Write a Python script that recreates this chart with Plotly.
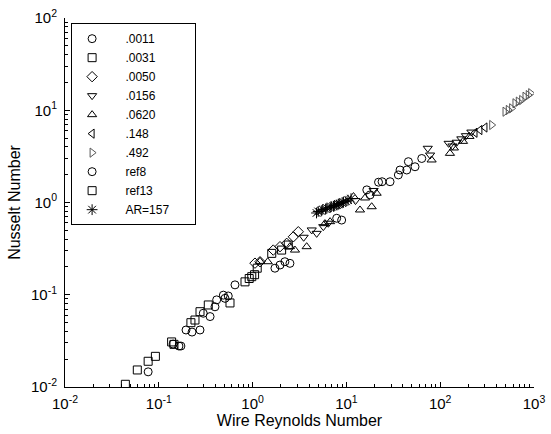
import plotly.graph_objects as go

# ---------------- data ----------------
ref13_x = [0.044, 0.059, 0.077, 0.092, 0.137, 0.145, 0.22, 0.243, 0.275, 0.337, 0.574]
ref13_y = [0.0107, 0.0153, 0.019, 0.0215, 0.0308, 0.029, 0.0498, 0.0532, 0.0655, 0.0775, 0.0815]

s0031_x = [0.83, 0.92, 0.98, 1.05, 1.12, 1.6, 2.04, 2.4]
s0031_y = [0.138, 0.15, 0.157, 0.165, 0.194, 0.281, 0.305, 0.346]

ref8_x = [0.077, 0.142, 0.164, 0.172, 0.195, 0.226, 0.275, 0.298, 0.352, 0.397, 0.414, 0.488, 0.508, 0.55, 0.649]
ref8_y = [0.0146, 0.0292, 0.0278, 0.0278, 0.0415, 0.0394, 0.0415, 0.063, 0.058, 0.074, 0.088, 0.099, 0.0914, 0.097, 0.128]

s0011_x = [1.73, 1.96, 2.21, 2.5, 7.88, 8.9, 16.5, 17.9, 22.0, 24.0, 29.2, 35.8, 37.3, 44, 45.8, 53.9, 63.6]
s0011_y = [0.194, 0.21, 0.228, 0.219, 0.675, 0.645, 1.37, 1.21, 1.66, 1.68, 1.68, 1.99, 2.25, 2.25, 2.77, 2.44, 3.0]

s0050_x = [1.06, 1.2, 1.66, 1.96, 2.31, 2.72, 3.07]
s0050_y = [0.22, 0.228, 0.305, 0.332, 0.361, 0.425, 0.482]

s0156_x = [3.5, 4.27, 4.82, 5.67, 6.41, 12.5, 19.5, 73.7, 78, 123, 135, 150, 168, 188, 215]
s0156_y = [0.42, 0.504, 0.463, 0.547, 0.596, 1.05, 1.35, 3.87, 3.27, 4.38, 4.1, 4.5, 4.9, 5.3, 5.8]

s0620_x = [1.2, 1.45, 2.5, 2.83, 3.77, 5.9, 6.7, 11.9, 13.96, 15.8, 18.6, 21, 81, 127, 140, 175, 205]
s0620_y = [0.23, 0.228, 0.332, 0.305, 0.332, 0.59, 0.62, 1.16, 0.83, 1.12, 0.9, 1.26, 2.89, 3.41, 3.9, 4.6, 5.2]

s148_x = [235, 265, 300]
s148_y = [5.7, 6.1, 6.5]

s492_x = [354, 491, 532, 578, 627, 680, 739, 802, 869, 922]
s492_y = [6.92, 9.64, 10.07, 10.5, 11.9, 12.4, 12.9, 14.0, 14.6, 15.3]

ar157_x = [4.8, 5.0, 5.4, 5.6, 6.0, 6.2, 6.7, 6.9, 7.3, 7.5, 7.9, 8.2, 8.5, 9.0, 9.3, 9.9, 10.4, 11.2]
ar157_y = [0.77, 0.80, 0.81, 0.84, 0.85, 0.87, 0.88, 0.90, 0.91, 0.93, 0.94, 0.96, 0.97, 0.99, 1.01, 1.03, 1.06, 1.10]

series = [
    (".0011", s0011_x, s0011_y, "circle-open", "black"),
    (".0031", s0031_x, s0031_y, "square-open", "black"),
    (".0050", s0050_x, s0050_y, "diamond-open", "black"),
    (".0156", s0156_x, s0156_y, "triangle-down-open", "black"),
    (".0620", s0620_x, s0620_y, "triangle-up-open", "black"),
    (".148", s148_x, s148_y, "triangle-left-open", "black"),
    (".492", s492_x, s492_y, "triangle-right-open", "#555555"),
    ("ref8", ref8_x, ref8_y, "circle-open", "black"),
    ("ref13", ref13_x, ref13_y, "square-open", "black"),
    ("AR=157", ar157_x, ar157_y, "asterisk-open", "black"),
]

x_ticks = [1e-2, 1e-1, 1e0, 1e1, 1e2, 1e3]
x_ticktext = ["10<sup>-2</sup>", "10<sup>-1</sup>", "10<sup>0</sup>", "10<sup>1</sup>", "10<sup>2</sup>", "10<sup>3</sup>"]
y_ticks = [1e-2, 1e-1, 1e0, 1e1, 1e2]
y_ticktext = ["10<sup>-2</sup>", "10<sup>-1</sup>", "10<sup>0</sup>", "10<sup>1</sup>", "10<sup>2</sup>"]

def minors(lo, hi):
    out = []
    for e in range(lo, hi):
        for m in range(2, 10):
            out.append(m * 10.0 ** e)
    return out

NB = "\u00a0"
fig = go.Figure()
for i, (name, xs, ys, sym, col) in enumerate(series):
    size = 9 if sym == "asterisk-open" else 8
    label = NB * 4 + name + (NB * 6 if name == "AR=157" else "")
    fig.add_trace(go.Scatter(
        x=xs, y=ys, mode="markers", name=label,
        marker=dict(symbol=sym, size=size, color=col,
                    line=dict(color=col, width=1)),
    ))

font = "Liberation Sans, Arial, sans-serif"
fig.update_layout(
    width=551, height=434,
    margin=dict(l=65, r=17, t=18, b=47),
    paper_bgcolor="white", plot_bgcolor="white",
    font=dict(family=font, size=13, color="black"),
    showlegend=True,
    legend=dict(
        x=0.013, y=0.986, xanchor="left", yanchor="top",
        bgcolor="white", bordercolor="black", borderwidth=1,
        font=dict(family=font, size=12, color="black"),
        itemwidth=30, tracegroupgap=0,
    ),
)
fig.update_xaxes(
    type="log", range=[-2, 3], automargin=False,
    tickvals=x_ticks, ticktext=x_ticktext,
    ticks="inside", ticklen=5, tickcolor="black",
    showline=True, linecolor="black", linewidth=1, mirror=False,
    showgrid=False, zeroline=False,
    minor=dict(ticks="inside", ticklen=3, tickcolor="black", tickvals=minors(-2, 3), showgrid=False),
    title=dict(text="Wire Reynolds Number", standoff=0, font=dict(size=16)),
    tickfont=dict(size=15), ticklabelstandoff=3,
)
fig.update_yaxes(
    type="log", range=[-2, 2], automargin=False,
    tickvals=y_ticks, ticktext=y_ticktext,
    ticks="inside", ticklen=5, tickcolor="black",
    showline=True, linecolor="black", linewidth=1, mirror=False,
    showgrid=False, zeroline=False,
    minor=dict(ticks="inside", ticklen=3, tickcolor="black", tickvals=minors(-2, 2), showgrid=False),
    title=dict(text="Nusselt Number", standoff=6, font=dict(size=16)),
    tickfont=dict(size=15), ticklabelstandoff=4,
)

fig.write_html("out.html")
